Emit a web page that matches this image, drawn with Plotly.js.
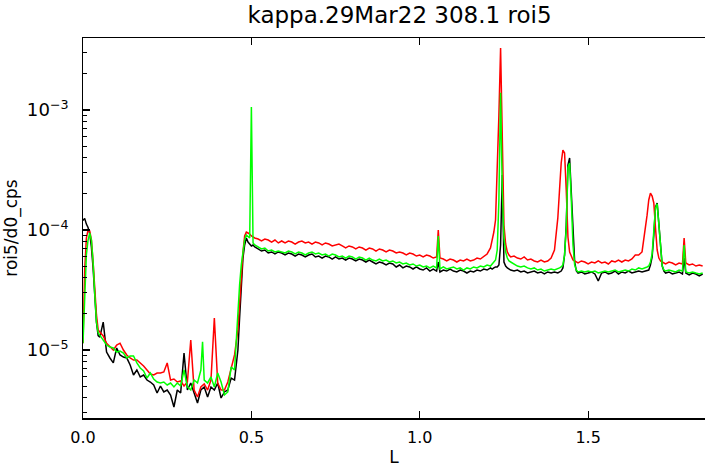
<!DOCTYPE html>
<html>
<head>
<meta charset="utf-8">
<script src="https://cdn.plot.ly/plotly-3.0.1.min.js"></script>
<style>
html,body{margin:0;padding:0;background:#fff;}
#chart{width:705px;height:467px;}
</style>
</head>
<body>
<div id="chart"></div>
<script>
// L values (shared scan grid)
var L = [
  0, 0.005, 0.01, 0.015, 0.02, 0.025, 0.03, 0.035, 0.04, 0.045,
  0.05, 0.06, 0.07, 0.08, 0.09, 0.10, 0.11, 0.12, 0.13, 0.14,
  0.15, 0.16, 0.17, 0.18, 0.19, 0.20, 0.21, 0.22, 0.23, 0.24,
  0.25, 0.26, 0.27, 0.28, 0.29, 0.30, 0.31, 0.32, 0.33, 0.34,
  0.35, 0.355, 0.36, 0.37, 0.38, 0.39, 0.40, 0.41, 0.42, 0.43,
  0.44, 0.45, 0.46,
  0.465, 0.47, 0.475, 0.48, 0.485, 0.49, 0.495, 0.50, 0.505,
  0.51, 0.52, 0.53, 0.54, 0.55, 0.56, 0.57, 0.58, 0.59, 0.60,
  0.61, 0.62, 0.63, 0.64, 0.65, 0.66, 0.67, 0.68, 0.69, 0.70,
  0.71, 0.72, 0.73, 0.74, 0.75, 0.76, 0.77, 0.78, 0.79, 0.80,
  0.81, 0.82, 0.83, 0.84, 0.85, 0.86, 0.87, 0.88, 0.89, 0.90,
  0.91, 0.92, 0.93, 0.94, 0.95, 0.96, 0.97, 0.98, 0.99, 1.00,
  1.01, 1.02, 1.03, 1.04, 1.05, 1.055, 1.06, 1.07, 1.08, 1.09,
  1.10, 1.11, 1.12, 1.13, 1.14, 1.15, 1.16, 1.17, 1.18, 1.19,
  1.20, 1.21,
  1.215, 1.22, 1.225, 1.23, 1.235, 1.24, 1.245, 1.25, 1.255, 1.26, 1.265,
  1.27, 1.28, 1.29, 1.30, 1.31, 1.32, 1.33, 1.34, 1.35, 1.36,
  1.37, 1.38, 1.39, 1.40, 1.41,
  1.415, 1.42, 1.425, 1.43, 1.435, 1.44, 1.445, 1.45, 1.455, 1.46, 1.465,
  1.47, 1.48, 1.49, 1.50, 1.51, 1.52, 1.53, 1.54, 1.55, 1.56,
  1.57, 1.58, 1.59, 1.60, 1.61, 1.62, 1.63, 1.64, 1.65, 1.66,
  1.67,
  1.675, 1.68, 1.685, 1.69, 1.695, 1.70, 1.705, 1.71, 1.715, 1.72, 1.725,
  1.73, 1.74, 1.75, 1.76, 1.77, 1.78, 1.785, 1.79, 1.80, 1.81, 1.82, 1.83, 1.84
];

// black series
var blackVals = [
  1.2e-4, 1.25e-4, 1.12e-4, 1.05e-4, 9.3e-5, 7.2e-5, 4.8e-5, 2.9e-5, 1.7e-5, 1.32e-5,
  1.28e-5, 1.71e-5, 9.62e-6, 8.58e-6, 7.80e-6, 1.04e-5, 9.09e-6, 8.74e-6, 8.58e-6, 7.50e-6,
  6.19e-6, 6.81e-6, 5.96e-6, 6.19e-6, 5.62e-6, 5.41e-6, 5.11e-6, 4.38e-6, 5.01e-6, 4.47e-6,
  4.64e-6, 4.22e-6, 3.35e-6, 4.64e-6, 4.38e-6, 9.44e-6, 4.64e-6, 5.31e-6, 4.38e-6, 3.62e-6,
  4.64e-6, 4.83e-6, 4.92e-6, 4.06e-6, 4.92e-6, 4.64e-6, 5.31e-6, 3.98e-6, 4.47e-6, 4.64e-6,
  5.84e-6, 5.62e-6, 1.0e-5,
  1.85e-5, 3.29e-5, 5.84e-5, 7.50e-5, 8.58e-5, 7.94e-5, 7.64e-5, 7.36e-5, 7.50e-5,
  7.22e-5, 6.95e-5, 6.68e-5, 6.81e-5, 6.43e-5, 6.56e-5, 6.31e-5, 6.56e-5, 6.43e-5, 6.19e-5,
  6.43e-5, 6.31e-5, 6.07e-5, 6.31e-5, 6.19e-5, 5.96e-5, 6.19e-5, 6.31e-5, 5.96e-5, 6.07e-5,
  5.84e-5, 6.07e-5, 5.96e-5, 5.73e-5, 5.96e-5, 5.73e-5, 5.84e-5, 5.62e-5, 5.84e-5, 5.73e-5,
  5.52e-5, 5.73e-5, 5.62e-5, 5.41e-5, 5.62e-5, 5.41e-5, 5.21e-5, 5.41e-5, 5.31e-5, 5.11e-5,
  5.31e-5, 5.21e-5, 4.92e-5, 5.11e-5, 4.83e-5, 5.01e-5, 4.92e-5, 4.73e-5, 4.92e-5, 4.73e-5,
  4.64e-5, 4.83e-5, 4.55e-5, 4.73e-5, 4.55e-5, 5.41e-5, 4.47e-5, 4.64e-5, 4.55e-5, 4.73e-5,
  4.55e-5, 4.47e-5, 4.64e-5, 4.55e-5, 4.38e-5, 4.55e-5, 4.47e-5, 4.64e-5, 4.55e-5, 4.73e-5,
  4.64e-5, 4.83e-5,
  4.73e-5, 4.83e-5, 4.92e-5, 4.92e-5, 5.11e-5, 7.50e-5, 2.87e-4, 5.41e-5, 5.01e-5, 4.83e-5, 4.73e-5,
  4.64e-5, 4.55e-5, 4.64e-5, 4.47e-5, 4.55e-5, 4.38e-5, 4.47e-5, 4.55e-5, 4.38e-5, 4.47e-5,
  4.30e-5, 4.47e-5, 4.38e-5, 4.47e-5, 4.38e-5,
  4.47e-5, 4.55e-5, 4.83e-5, 6.19e-5, 1.10e-4, 3.48e-4, 3.98e-4, 1.96e-4, 8.25e-5, 5.41e-5, 4.55e-5,
  4.38e-5, 4.47e-5, 4.30e-5, 4.38e-5, 4.47e-5, 4.30e-5, 3.76e-5, 4.38e-5, 4.47e-5, 4.30e-5,
  4.38e-5, 4.55e-5, 4.30e-5, 4.47e-5, 4.38e-5, 4.55e-5, 4.38e-5, 4.47e-5, 4.55e-5, 4.47e-5,
  4.55e-5,
  4.55e-5, 4.64e-5, 5.11e-5, 5.96e-5, 9.09e-5, 1.55e-4, 1.68e-4, 1.17e-4, 7.50e-5, 5.01e-5, 4.55e-5,
  4.38e-5, 4.47e-5, 4.30e-5, 4.38e-5, 4.47e-5, 4.30e-5, 5.84e-5, 4.38e-5, 4.22e-5, 4.38e-5, 4.30e-5, 4.14e-5, 4.30e-5
];

// red series
var redVals = [
  1.14e-5, 4.64e-5, 8.58e-5, 1.0e-4, 9.81e-5, 8.25e-5, 5.41e-5, 3.16e-5, 1.96e-5, 1.47e-5,
  1.41e-5, 1.31e-5, 1.14e-5, 1.06e-5, 1.0e-5, 1.10e-5, 1.14e-5, 1.0e-5, 9.09e-6, 8.58e-6,
  8.25e-6, 8.25e-6, 7.80e-6, 7.36e-6, 6.81e-6, 6.31e-6, 6.19e-6, 6.43e-6, 6.43e-6, 6.56e-6,
  7.80e-6, 5.62e-6, 5.73e-6, 5.41e-6, 5.52e-6, 5.01e-6, 5.41e-6, 1.21e-5, 4.64e-6, 4.06e-6,
  4.92e-6, 5.11e-6, 5.21e-6, 4.64e-6, 5.62e-6, 1.85e-5, 5.31e-6, 4.64e-6, 4.64e-6, 5.41e-6,
  7.08e-6, 9.09e-6, 1.47e-5,
  2.61e-5, 4.22e-5, 6.56e-5, 8.91e-5, 9.62e-5, 9.44e-5, 9.26e-5, 8.91e-5, 8.74e-5,
  8.58e-5, 8.41e-5, 8.10e-5, 8.41e-5, 8.25e-5, 7.94e-5, 8.25e-5, 7.80e-5, 8.10e-5, 7.80e-5,
  8.10e-5, 7.94e-5, 7.64e-5, 7.94e-5, 8.10e-5, 7.80e-5, 7.94e-5, 7.64e-5, 7.94e-5, 7.80e-5,
  7.50e-5, 7.80e-5, 7.64e-5, 7.36e-5, 7.50e-5, 7.64e-5, 7.36e-5, 7.08e-5, 7.36e-5, 7.22e-5,
  6.95e-5, 7.22e-5, 7.08e-5, 6.81e-5, 7.08e-5, 6.95e-5, 6.68e-5, 6.95e-5, 6.81e-5, 6.56e-5,
  6.81e-5, 6.68e-5, 6.43e-5, 6.56e-5, 6.43e-5, 6.19e-5, 6.43e-5, 6.31e-5, 6.07e-5, 6.19e-5,
  5.96e-5, 6.19e-5, 6.07e-5, 5.84e-5, 5.96e-5, 1.0e-4, 5.84e-5, 5.73e-5, 5.52e-5, 5.73e-5,
  5.62e-5, 5.41e-5, 5.62e-5, 5.52e-5, 5.73e-5, 5.52e-5, 5.62e-5, 5.84e-5, 5.73e-5, 6.07e-5,
  6.31e-5, 7.08e-5,
  8.25e-5, 9.62e-5, 1.21e-4, 2.99e-4, 9.08e-4, 3.29e-3, 5.62e-4, 1.10e-4, 7.64e-5, 6.56e-5, 6.19e-5,
  5.96e-5, 6.07e-5, 5.84e-5, 5.73e-5, 5.96e-5, 5.62e-5, 5.73e-5, 5.52e-5, 5.41e-5, 5.62e-5,
  5.41e-5, 5.52e-5, 5.84e-5, 6.81e-5, 1.26e-4,
  2.15e-4, 3.62e-4, 4.64e-4, 4.38e-4, 2.15e-4, 8.74e-5, 6.56e-5, 5.96e-5, 5.62e-5, 5.52e-5, 5.41e-5,
  5.31e-5, 5.52e-5, 5.41e-5, 5.21e-5, 5.41e-5, 5.31e-5, 5.52e-5, 5.31e-5, 5.41e-5, 5.21e-5,
  5.52e-5, 5.41e-5, 5.62e-5, 5.41e-5, 5.62e-5, 5.52e-5, 5.73e-5, 6.19e-5, 6.19e-5, 6.56e-5,
  1.0e-4,
  1.33e-4, 1.78e-4, 2.03e-4, 1.92e-4, 1.68e-4, 1.04e-4, 6.81e-5, 5.84e-5, 5.52e-5, 5.41e-5, 5.31e-5,
  5.21e-5, 5.41e-5, 5.31e-5, 5.11e-5, 5.31e-5, 5.21e-5, 8.58e-5, 5.31e-5, 5.11e-5, 5.21e-5, 5.01e-5, 5.11e-5, 5.01e-5
];

// green series
var greenVals = [
  1.14e-5, 2.61e-5, 6.19e-5, 8.25e-5, 9.44e-5, 8.25e-5, 5.41e-5, 2.87e-5, 1.71e-5, 1.39e-5,
  1.33e-5, 1.21e-5, 1.10e-5, 1.06e-5, 1.04e-5, 9.62e-6, 9.81e-6, 9.44e-6, 8.58e-6, 8.91e-6,
  8.91e-6, 7.80e-6, 7.08e-6, 6.68e-6, 5.84e-6, 6.43e-6, 5.73e-6, 5.41e-6, 5.31e-6, 5.41e-6,
  5.11e-6, 5.31e-6, 4.92e-6, 5.31e-6, 5.01e-6, 6.81e-6, 4.92e-6, 4.64e-6, 5.62e-6, 5.31e-6,
  6.81e-6, 1.17e-5, 5.62e-6, 5.31e-6, 5.96e-6, 4.92e-6, 6.43e-6, 5.41e-6, 4.22e-6, 4.47e-6,
  7.22e-6, 6.81e-6, 2.28e-5,
  3.48e-5, 5.11e-5, 6.81e-5, 8.25e-5, 9.09e-5, 8.74e-5, 8.58e-5, 1.06e-3, 7.80e-5,
  7.50e-5, 7.22e-5, 6.95e-5, 7.08e-5, 6.68e-5, 6.81e-5, 6.56e-5, 6.68e-5, 6.56e-5, 6.43e-5,
  6.68e-5, 6.56e-5, 6.31e-5, 6.56e-5, 6.43e-5, 6.19e-5, 6.43e-5, 6.56e-5, 6.31e-5, 6.43e-5,
  6.19e-5, 6.31e-5, 6.07e-5, 6.31e-5, 6.19e-5, 5.96e-5, 6.07e-5, 5.84e-5, 6.07e-5, 5.96e-5,
  5.73e-5, 5.96e-5, 5.84e-5, 5.62e-5, 5.84e-5, 5.62e-5, 5.52e-5, 5.73e-5, 5.52e-5, 5.62e-5,
  5.41e-5, 5.52e-5, 5.31e-5, 5.41e-5, 5.21e-5, 5.31e-5, 5.11e-5, 5.21e-5, 5.01e-5, 5.11e-5,
  4.92e-5, 5.01e-5, 4.83e-5, 5.01e-5, 4.83e-5, 8.91e-5, 4.73e-5, 4.92e-5, 4.73e-5, 4.83e-5,
  4.92e-5, 4.73e-5, 4.83e-5, 4.64e-5, 4.83e-5, 4.73e-5, 4.92e-5, 4.83e-5, 5.01e-5, 4.92e-5,
  5.11e-5, 5.01e-5,
  5.21e-5, 5.31e-5, 5.62e-5, 6.81e-5, 1.78e-4, 1.39e-3, 2.15e-4, 8.58e-5, 6.56e-5, 5.84e-5, 5.52e-5,
  5.41e-5, 5.21e-5, 5.01e-5, 4.92e-5, 5.01e-5, 4.83e-5, 4.73e-5, 4.83e-5, 4.64e-5, 4.73e-5,
  4.55e-5, 4.64e-5, 4.73e-5, 4.64e-5, 4.73e-5,
  4.83e-5, 4.92e-5, 5.11e-5, 6.19e-5, 1.04e-4, 3.29e-4, 3.62e-4, 1.78e-4, 7.50e-5, 5.11e-5, 4.64e-5,
  4.47e-5, 4.55e-5, 4.47e-5, 4.55e-5, 4.47e-5, 4.55e-5, 4.38e-5, 4.47e-5, 4.55e-5, 4.47e-5,
  4.55e-5, 4.64e-5, 4.47e-5, 4.55e-5, 4.64e-5, 4.55e-5, 4.73e-5, 4.64e-5, 4.83e-5, 4.73e-5,
  4.83e-5,
  4.92e-5, 5.01e-5, 5.41e-5, 6.31e-5, 9.09e-5, 1.53e-4, 1.65e-4, 1.10e-4, 6.81e-5, 5.01e-5, 4.64e-5,
  4.55e-5, 4.64e-5, 4.55e-5, 4.47e-5, 4.64e-5, 4.55e-5, 7.50e-5, 4.47e-5, 4.38e-5, 4.47e-5, 4.38e-5, 4.30e-5, 4.38e-5
];

var titleText = 'kappa.29Mar22 308.1 roi5';
var xLabel = 'L';
var yLabel = 'roi5/d0_cps';
var xTicks = [0, 0.5, 1.0, 1.5];
var xTickText = ['0.0', '0.5', '1.0', '1.5'];
var yMinorTicks = [3e-6, 4e-6, 5e-6, 6e-6, 7e-6, 8e-6, 9e-6,
                   2e-5, 3e-5, 4e-5, 5e-5, 6e-5, 7e-5, 8e-5, 9e-5,
                   2e-4, 3e-4, 4e-4, 5e-4, 6e-4, 7e-4, 8e-4, 9e-4,
                   2e-3, 3e-3];

var FONT = 'DejaVu Sans, Arial, sans-serif';
var Y_RANGE = [-5.5667, -2.4];

var traces = [
  {x: L, y: blackVals, type: 'scatter', mode: 'lines', name: 'black', line: {color: '#000000', width: 1.5}},
  {x: L, y: redVals, type: 'scatter', mode: 'lines', name: 'red', line: {color: '#ff0000', width: 1.5}},
  {x: L, y: greenVals, type: 'scatter', mode: 'lines', name: 'green', line: {color: '#00ff00', width: 1.5}},
  // empty helper trace so the minor-tick overlay axis is drawn
  {x: [], y: [], type: 'scatter', mode: 'lines', yaxis: 'y2', hoverinfo: 'skip', showlegend: false}
];

var layout = {
  width: 705, height: 467,
  margin: {l: 83, r: 0, t: 38, b: 49, pad: 0},
  paper_bgcolor: '#ffffff', plot_bgcolor: '#ffffff',
  showlegend: false,
  font: {family: FONT, color: '#000000', size: 15},
  title: {
    text: titleText,
    font: {family: FONT, size: 23, color: '#000000'},
    xref: 'container', x: 399.5 / 705, xanchor: 'center',
    yref: 'container', y: 1 - 15 / 467, yanchor: 'middle'
  },
  xaxis: {
    range: [0, 1.847],
    tickvals: xTicks, ticktext: xTickText,
    ticks: 'inside', ticklen: 7, tickwidth: 1.2, tickcolor: '#000',
    showline: true, linecolor: '#000', linewidth: 1.5,
    mirror: 'ticks',
    showgrid: false, zeroline: false,
    tickfont: {family: FONT, size: 16, color: '#000'},
    ticklabelstandoff: 4,
    title: {text: xLabel, font: {family: FONT, size: 17, color: '#000'}, standoff: 10}
  },
  yaxis: {
    type: 'log',
    range: Y_RANGE,
    dtick: 1,
    exponentformat: 'power',
    showexponent: 'all',
    ticks: 'inside', ticklen: 7, tickwidth: 1.2, tickcolor: '#000',
    showline: true, linecolor: '#000', linewidth: 1.5,
    mirror: false,
    showgrid: false, zeroline: false,
    automargin: true,
    tickfont: {family: FONT, size: 14.5, color: '#000'},
    ticklabelstandoff: 10,
    title: {text: yLabel, font: {family: FONT, size: 17, color: '#000'}, standoff: 5}
  },
  yaxis2: {
    type: 'log',
    range: Y_RANGE,
    overlaying: 'y',
    side: 'left',
    tickmode: 'array',
    tickvals: yMinorTicks,
    showticklabels: false,
    ticks: 'inside', ticklen: 4, tickwidth: 1, tickcolor: '#000',
    showline: false, showgrid: false, zeroline: false
  }
};

Plotly.newPlot('chart', traces, layout, {displayModeBar: false, staticPlot: true});
</script>
</body>
</html>
